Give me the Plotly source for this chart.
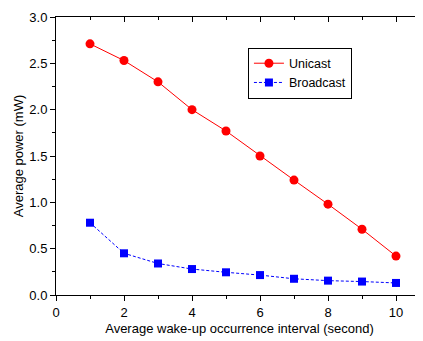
import plotly.graph_objects as go

x_vals = [1, 2, 3, 4, 5, 6, 7, 8, 9, 10]
unicast = [2.71, 2.53, 2.30, 2.00, 1.77, 1.50, 1.24, 0.98, 0.71, 0.42]
broadcast = [0.78, 0.45, 0.34, 0.28, 0.245, 0.215, 0.175, 0.155, 0.145, 0.13]

FONT = "Liberation Sans, Arial, sans-serif"

fig = go.Figure()
fig.add_trace(go.Scatter(
    x=x_vals, y=unicast, name="Unicast", mode="lines+markers",
    line=dict(color="#FF0000", width=1),
    marker=dict(symbol="circle", size=9, color="#FF0000"),
))
fig.add_trace(go.Scatter(
    x=x_vals, y=broadcast, name="Broadcast", mode="lines+markers",
    line=dict(color="#0000FF", width=1, dash="3px,2px"),
    marker=dict(symbol="square", size=8, color="#0000FF"),
))

xr = [0, 367 / 34.0]

fig.update_layout(
    width=415, height=333,
    margin=dict(l=48, r=0, t=9, b=46, autoexpand=False),
    paper_bgcolor="white", plot_bgcolor="white",
    font=dict(family=FONT, size=13, color="black"),
    showlegend=True,
    legend=dict(
        x=0.523, y=0.89, xanchor="left", yanchor="top",
        bordercolor="black", borderwidth=1, bgcolor="white",
        font=dict(family=FONT, size=12.5, color="black"),
        itemwidth=30, tracegroupgap=0,
    ),
    xaxis=dict(
        range=xr, dtick=2, tick0=0, automargin=False,
        showline=True, linecolor="black", linewidth=1,
        ticks="outside", ticklen=5, tickwidth=1, tickcolor="black",
        minor=dict(dtick=1, ticks="outside", ticklen=3, tickcolor="black"),
        showgrid=False, zeroline=False,
        tickfont=dict(family=FONT, size=13),
        title=dict(text="Average wake-up occurrence interval (second)", font=dict(family=FONT, size=13), standoff=5),
    ),
    xaxis2=dict(
        range=xr, dtick=2, tick0=0, overlaying="x", side="top", anchor="y", automargin=False,
        showline=True, linecolor="black", linewidth=1,
        ticks="inside", ticklen=5, tickwidth=1, tickcolor="black",
        minor=dict(dtick=1, ticks="inside", ticklen=3, tickcolor="black"),
        showticklabels=False, showgrid=False, zeroline=False,
    ),
    yaxis=dict(
        range=[0, 3.0], dtick=0.5, tick0=0, tickformat=".1f", automargin=False,
        showline=True, linecolor="black", linewidth=1,
        ticks="outside", ticklen=5, tickwidth=1, tickcolor="black",
        minor=dict(dtick=0.25, ticks="outside", ticklen=3, tickcolor="black"),
        showgrid=False, zeroline=False,
        tickfont=dict(family=FONT, size=13),
        title=dict(text="Average power (mW)", font=dict(family=FONT, size=13), standoff=2),
    ),
)

fig.add_trace(go.Scatter(x=[x_vals[0]], y=[unicast[0]], xaxis="x2", yaxis="y",
                         mode="markers", marker=dict(opacity=0), showlegend=False, hoverinfo="skip"))

fig.write_html("out.html")
